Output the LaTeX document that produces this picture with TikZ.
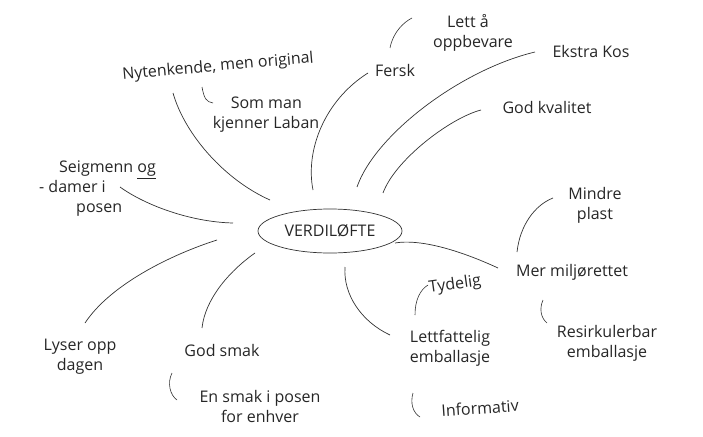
\documentclass[tikz,border=0pt]{standalone}
\usepackage{fontspec}
\setmainfont{Open Sans}
\usetikzlibrary{shapes.geometric}

\tikzset{
    idea/.style = {font = \fontsize{16}{20}\selectfont, text = black!85, align = center, inner sep = 1pt},
    branch/.style = {line width = 0.7pt, draw = black!80},
    hook/.style = {line width = 0.6pt, draw = black!80}
}

\begin{document}
\begin{tikzpicture}[x = 1pt, y = -1pt]

    \useasboundingbox (0, 0) rectangle (703, 436);

    \node[ellipse, draw = black!80, line width = 0.7pt, minimum width = 144pt, minimum height = 44pt, inner sep = 0pt, font = \fontsize{16}{20}\selectfont, text = black!85] (verdi) at (330, 231) {VERDILØFTE};

    % upper left
    \node[idea, rotate = 5] (nyt) at (218, 67) {Nytenkende, men original};
    \node[idea, align = left] (som) at (266, 115) {\hspace*{18pt}Som man\\kjenner Laban};
    \node[idea, align = left, anchor = west] (seig) at (38, 189) {\hspace*{20pt}Seigmenn \underline{og}\\- damer i\\\hspace*{37pt}posen};

    % upper right
    \node[idea] (fersk) at (395, 70) {Fersk};
    \node[idea] (lett) at (468, 33) {Lett å\\\hspace*{10pt}oppbevare};
    \node[idea] (ekstra) at (591, 52) {Ekstra Kos};
    \node[idea] (godkv) at (547, 107) {God kvalitet};

    % lower right
    \node[idea] (mindre) at (595, 205) {Mindre\\plast};
    \node[idea] (mer) at (572, 272) {Mer miljørettet};
    \node[idea, rotate = 8] (tyd) at (455, 285) {Tydelig};
    \node[idea] (lettf) at (450, 348) {Lettfattelig\\emballasje};
    \node[idea, rotate = 4] (inf) at (480, 408) {Informativ};
    \node[idea] (resirk) at (607, 343) {Resirkulerbar\\emballasje};

    % lower left
    \node[idea] (lyser) at (80, 357) {Lyser opp\\dagen};
    \node[idea] (godsm) at (222, 350) {God smak};
    \node[idea] (ensm) at (260, 406) {En smak i posen\\for enhver};

    % ends near the centre
    \coordinate (h-nyt) at (270, 200);
    \coordinate (h-seig) at (233, 223);
    \coordinate (h-fersk) at (313, 190);
    \coordinate (h-ekstra) at (357, 187);
    \coordinate (h-godkv) at (383, 193);
    \coordinate (h-mer) at (395, 243);
    \coordinate (h-lettf) at (345, 267);
    \coordinate (h-lyser) at (217, 240);
    \coordinate (h-godsm) at (255, 253);
    \coordinate (h-mindre) at (517, 252);

    \draw[branch] (nyt.center) ++(-45, 26) .. controls (185, 135) and (225, 180) .. (h-nyt);
    \draw[branch] (seig.west) ++(82, -2) .. controls (145, 205) and (190, 222) .. (h-seig);
    \draw[branch] (fersk.center) ++(-27, 3) .. controls (325, 100) and (305, 150) .. (h-fersk);
    \draw[branch] (ekstra.center) ++(-56, 0) .. controls (460, 70) and (375, 135) .. (h-ekstra);
    \draw[branch] (godkv.center) ++(-66, 3) .. controls (450, 118) and (395, 160) .. (h-godkv);
    \draw[branch] (mer.center) ++(-74, -4) .. controls (470, 255) and (425, 238) .. (h-mer);
    \draw[branch] (lettf.center) ++(-60, -13) .. controls (362, 322) and (343, 295) .. (h-lettf);
    \draw[branch] (lyser.center) ++(5, -34) .. controls (110, 285) and (170, 255) .. (h-lyser);
    \draw[branch] (godsm.center) ++(-20, -22) .. controls (205, 300) and (228, 272) .. (h-godsm);
    \draw[branch] (h-mindre) .. controls (520, 225) and (535, 205) .. ([shift = {(-42, -7)}]mindre.center);

    % small hooks
    \draw[hook] (390, 48) .. controls (393, 32) and (404, 22) .. ([shift = {(-56, -15)}]lett.center);
    \draw[hook] (som.center) ++(-64, -28) .. controls (204, 98) and (206, 102) .. (213, 103);
    \draw[hook] (415, 315) .. controls (415, 300) and (420, 290) .. ([shift = {(-27, 0)}]tyd.center);
    \draw[hook] (resirk.center) ++(-64, -43) .. controls (539, 309) and (541, 318) .. (547, 323);
    \draw[hook] (inf.center) ++(-67, -15) .. controls (410, 403) and (413, 413) .. (420, 417);
    \draw[hook] (ensm.center) ++(-88, -33) .. controls (167, 383) and (170, 395) .. (177, 400);

\end{tikzpicture}
\end{document}
